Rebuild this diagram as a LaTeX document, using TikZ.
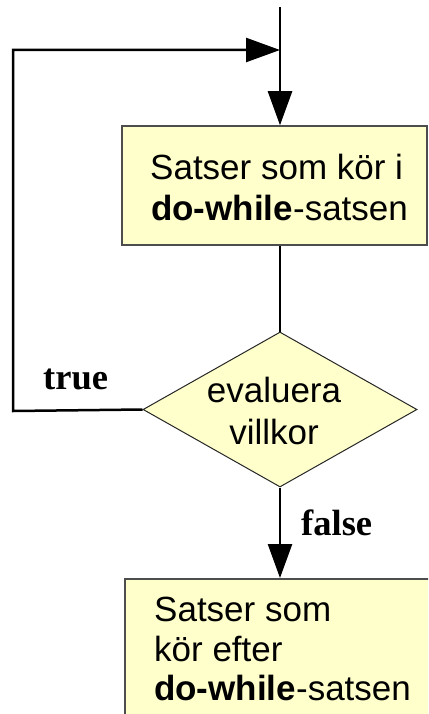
\documentclass[tikz,border=0pt]{standalone}
\usepackage{fontspec}
\setmainfont{Liberation Sans}
\newfontfamily\lblfont{Liberation Serif}
\usetikzlibrary{arrows.meta,shapes.geometric}
\definecolor{boxfill}{HTML}{FFFFCC}
\definecolor{boxline}{HTML}{4D4D4D}
\begin{document}
\begin{tikzpicture}[x=1pt,y=-1pt,
  box/.style={draw=boxline,line width=1.5pt,fill=boxfill,rectangle,inner sep=0pt},
  dia/.style={draw=black!85,line width=1pt,fill=boxfill,diamond,inner sep=0pt},
  txt/.style={anchor=base west,inner sep=0pt,font=\fontsize{35}{40}\selectfont},
  ctxt/.style={anchor=base,inner sep=0pt,font=\fontsize{35}{40}\selectfont},
  lbl/.style={anchor=base west,inner sep=0pt,font=\lblfont\bfseries\fontsize{36.5}{40}\selectfont},
  conn/.style={line width=2.5pt},
  arr/.style={conn,-{Triangle[length=34pt,width=24pt]}}]
\clip (0,0) rectangle (428,714);
\fill[white] (0,0) rectangle (428,714);
% boxes
\node[box,minimum width=305pt,minimum height=119pt] (box1) at (274.5,185.5) {};
\node[dia,minimum width=274pt,minimum height=155pt] (dia) at (280,409.5) {};
\node[box,line width=2pt,minimum width=320pt,minimum height=160pt] (box2) at (285,659) {};
% texts
\node[txt] (t1a) at (150,179) {Satser som kör i};
\node[txt] (t1b) at (151,220) {\textbf{do-while}-satsen};
\node[ctxt] (d1) at (274,402) {evaluera};
\node[ctxt] (d2) at (274,444) {villkor};
\node[txt] (t2a) at (154,621) {Satser som};
\node[txt] (t2b) at (154,661) {kör efter};
\node[txt] (t2c) at (154,700) {\textbf{do-while}-satsen};
\node[lbl] (ltrue) at (43,389) {true};
\node[lbl] (lfalse) at (301,535) {false};
% connectors
\coordinate (top) at (280,7);
\coordinate (lb) at (13,411);
\coordinate (lt) at (13,50);
\coordinate (join) at (280,50);
\draw[arr] (top) -- (top |- box1.north);
\draw[conn,line width=2pt] (top |- box1.south) -- (dia.north);
\draw[arr] (dia.west) -- (lb) -- (lt) -- (join);
\draw[arr] (dia.south) -- (dia.south |- box2.north);
\end{tikzpicture}
\end{document}
